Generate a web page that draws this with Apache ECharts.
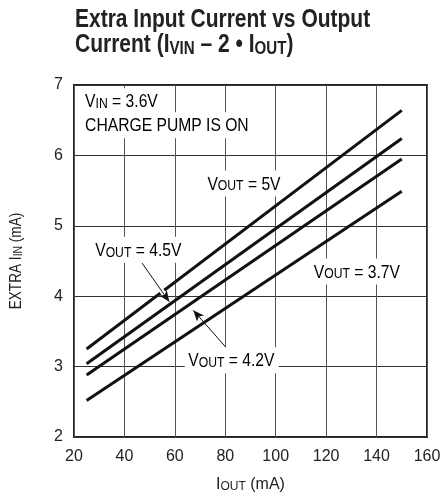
<!DOCTYPE html>
<html>
<head>
<meta charset="utf-8">
<script src="https://cdn.jsdelivr.net/npm/echarts@6/dist/echarts.min.js"></script>
<style>
  html, body { margin: 0; padding: 0; background: #fff; }
  #chart { width: 441px; height: 497px; }
</style>
</head>
<body>
<div id="chart"></div>
<script>
// data
const iOut = [25, 150];
const vout5 = [3.25, 6.64];
const vout45 = [3.04, 6.24];
const vout42 = [2.88, 5.95];
const vout37 = [2.52, 5.49];
const xTicks = [20, 160, 20];   // min, max, step
const yTicks = [2, 7, 1];

// text notes, in data coords (left edge of text, middle)
const notes = [
  { x: 24.4, y: 6.77, text: '{m|V}{s|IN}{m| = 3.6V}' },
  { x: 24.4, y: 6.43, text: '{m|CHARGE PUMP IS ON}' },
  { x: 72.9, y: 5.60, text: '{m|V}{s|OUT}{m| = 5V}' },
  { x: 28.4, y: 4.66, text: '{m|V}{s|OUT}{m| = 4.5V}' },
  { x: 115.1, y: 4.35, text: '{m|V}{s|OUT}{m| = 3.7V}' },
  { x: 65.3, y: 3.09, text: '{m|V}{s|OUT}{m| = 4.2V}' }
];
// arrows: tail -> tip
const arrows = [
  [[47.0, 4.47], [57.8, 3.92]],
  [[80.1, 3.28], [67.3, 3.80]]
];
// where the 4.5V arrow cuts through the 5V curve (white break)
const arrowGap = [[53.5, 4.14], [56.5, 3.99]];

// no narrow face installed, so text drawn as graphic gets squeezed instead
const FONT = '"Liberation Sans", Arial, sans-serif';
const INK = '#222';

const rich = {
  m: { fontFamily: FONT, fontSize: 18, color: INK, lineHeight: 20, verticalAlign: 'bottom' },
  s: { fontFamily: FONT, fontSize: 14, color: INK, lineHeight: 10, verticalAlign: 'bottom' }
};
const axisRich = {
  m: { fontFamily: FONT, fontSize: 16, color: INK, lineHeight: 18, verticalAlign: 'bottom' },
  s: { fontFamily: FONT, fontSize: 12, color: INK, lineHeight: 8, verticalAlign: 'bottom' }
};

const pairs = vals => iOut.map((x, i) => [x, vals[i]]);

const chart = echarts.init(document.getElementById('chart'));

const lineSeries = (name, vals) => ({
  name: name,
  type: 'line',
  data: pairs(vals),
  showSymbol: false,
  lineStyle: { color: '#111', width: 3 },
  z: 3
});

const gapLine = [
  { coord: arrowGap[0], symbol: 'none', lineStyle: { color: '#fff', width: 5 } },
  { coord: arrowGap[1], symbol: 'none' }
];

chart.setOption({
  animation: false,
  backgroundColor: '#fff',
  grid: {
    left: 74, right: 14, top: 85, bottom: 60,
    containLabel: false,
    outerBoundsMode: 'none',
    show: true,
    borderColor: '#222',
    borderWidth: 2
  },
  xAxis: {
    type: 'value',
    min: xTicks[0], max: xTicks[1], interval: xTicks[2],
    axisLine: { show: false },
    axisTick: { show: false },
    splitLine: { show: true, lineStyle: { color: '#555', width: 1 } },
    axisLabel: { fontFamily: FONT, fontSize: 16, color: INK, margin: 12 },
    name: '{m|I}{s|OUT}{m| (mA)}',
    nameLocation: 'middle',
    nameGap: 38,
    nameTextStyle: { rich: axisRich }
  },
  yAxis: {
    type: 'value',
    min: yTicks[0], max: yTicks[1], interval: yTicks[2],
    axisLine: { show: false },
    axisTick: { show: false },
    splitLine: { show: true, lineStyle: { color: '#333', width: 1 } },
    axisLabel: { fontFamily: FONT, fontSize: 16, color: INK, margin: 11 }
  },
  series: [
    Object.assign(lineSeries('5V', vout5), {
      markLine: {
        silent: true,
        symbol: ['none', 'arrow'],
        symbolSize: [7, 11],
        label: { show: false },
        lineStyle: { color: '#111', width: 1, type: 'solid' },
        data: [gapLine].concat(arrows.map(a => [{ coord: a[0] }, { coord: a[1] }])),
        z: 6
      }
    }),
    lineSeries('4.5V', vout45),
    lineSeries('4.2V', vout42),
    lineSeries('3.7V', vout37)
  ]
});

const title = {
  type: 'text',
  x: 75, y: 8,
  scaleX: 0.84,
  style: {
    text: '{a|Extra Input Current vs Output}\n{a|Current (I}{b|VIN}{a| \u2013 2 \u2022 I}{b|OUT}{a|)}',
    align: 'left',
    verticalAlign: 'top',
    rich: {
      a: { fontFamily: FONT, fontSize: 25, fontWeight: 'bold', fill: INK, lineHeight: 25, verticalAlign: 'bottom' },
      b: { fontFamily: FONT, fontSize: 18, fontWeight: 'bold', fill: INK, lineHeight: 8, verticalAlign: 'bottom' }
    }
  }
};

// y axis name, centred on the plot's height
const yMid = chart.convertToPixel({ gridIndex: 0 }, [xTicks[0], (yTicks[0] + yTicks[1]) / 2]);
const yName = {
  type: 'text',
  x: 16, y: yMid[1],
  rotation: Math.PI / 2,
  scaleX: 0.8,
  style: {
    text: '{m|EXTRA I}{s|IN}{m| (mA)}',
    align: 'center',
    verticalAlign: 'middle',
    rich: {
      m: { fontFamily: FONT, fontSize: 17, fill: INK, lineHeight: 18, verticalAlign: 'bottom' },
      s: { fontFamily: FONT, fontSize: 13, fill: INK, lineHeight: 8, verticalAlign: 'bottom' }
    }
  }
};

const NOTE_SCALE = 0.87;
const PAD = [3, 5, 3, 4];

// place the notes through the chart's own scales
chart.setOption({
  graphic: [title, yName].concat(notes.map(n => {
    const p = chart.convertToPixel({ gridIndex: 0 }, [n.x, n.y]);
    return {
      type: 'text',
      x: p[0] - PAD[3] * NOTE_SCALE, y: p[1],
      scaleX: NOTE_SCALE,
      z: 5,
      style: {
        text: n.text,
        rich: rich,
        align: 'left',
        verticalAlign: 'middle',
        backgroundColor: '#fff',
        padding: PAD
      }
    };
  }))
});
</script>
</body>
</html>
